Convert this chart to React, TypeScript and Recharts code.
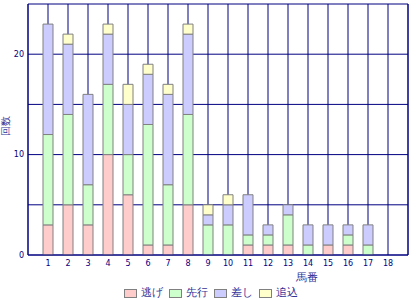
import { BarChart, Bar, XAxis, YAxis, CartesianGrid } from "recharts";

const horses = [1, 2, 3, 4, 5, 6, 7, 8, 9, 10, 11, 12, 13, 14, 15, 16, 17, 18];
const nige = [3, 5, 3, 10, 6, 1, 1, 5, 0, 0, 1, 1, 1, 0, 1, 1, 0, 0];
const senko = [9, 9, 4, 7, 4, 12, 6, 9, 3, 3, 1, 1, 3, 1, 0, 1, 1, 0];
const sashi = [11, 7, 9, 5, 5, 5, 9, 8, 1, 2, 4, 1, 1, 2, 2, 1, 2, 0];
const oikomi = [0, 1, 0, 1, 2, 1, 1, 1, 1, 1, 0, 0, 0, 0, 0, 0, 0, 0];
const yTicks = [0, 5, 10, 15, 20, 25];

const series = [
  { key: "nige", name: "逃げ", color: "#ffcccc" },
  { key: "senko", name: "先行", color: "#ccffcc" },
  { key: "sashi", name: "差し", color: "#ccccff" },
  { key: "oikomi", name: "追込", color: "#ffffcc" },
];

const data = horses.map((h, i) => ({
  horse: String(h),
  nige: nige[i],
  senko: senko[i],
  sashi: sashi[i],
  oikomi: oikomi[i],
}));

const navy = "#000080";
const titleColor = "#333399";

export default function App() {
  return (
    <div
      style={{
        position: "absolute",
        left: 0,
        top: 0,
        width: 420,
        height: 300,
        background: "#fff",
        fontFamily: "'DejaVu Sans', sans-serif",
      }}
    >
      <BarChart
        width={420}
        height={300}
        data={data}
        margin={{ top: 4, right: 11, left: 0, bottom: 0 }}
        barSize={10}
      >
        <CartesianGrid stroke={navy} strokeWidth={1} />
        <XAxis
          dataKey="horse"
          padding={{ left: 10, right: 10 }}
          interval={0}
          height={45}
          tickLine={false}
          tickSize={0}
          tickMargin={5}
          axisLine={{ stroke: navy }}
          tick={{ fill: navy, fontSize: 8 }}
          label={{
            content: () => (
              <text x={307} y={281} textAnchor="middle" fill={titleColor} fontSize={11}>
                馬番
              </text>
            ),
          }}
        />
        <YAxis
          width={28}
          domain={[0, 25]}
          ticks={yTicks}
          interval={0}
          tickLine={false}
          tickSize={0}
          tickMargin={4}
          axisLine={{ stroke: navy }}
          tick={{ fill: navy, fontSize: 8 }}
          tickFormatter={(v: number) => (v % 10 === 0 ? String(v) : "")}
          label={{
            content: () => (
              <text
                x={9}
                y={126}
                textAnchor="middle"
                fill={titleColor}
                fontSize={10}
                transform="rotate(-90 9 126)"
              >
                回数
              </text>
            ),
          }}
        />
        <YAxis
          yAxisId="frame"
          orientation="right"
          width={1}
          domain={[0, 25]}
          tick={false}
          tickLine={false}
          axisLine={{ stroke: navy }}
        />
        {series.map((s) => (
          <Bar
            key={s.key}
            dataKey={s.key}
            name={s.name}
            stackId="a"
            fill={s.color}
            stroke="#808080"
            strokeWidth={1}
            isAnimationActive={false}
          />
        ))}
      </BarChart>
      <div
        style={{
          position: "absolute",
          left: 124,
          top: 286,
          display: "flex",
          alignItems: "center",
          fontSize: 11,
          color: titleColor,
          lineHeight: "14px",
        }}
      >
        {series.map((s) => (
          <div key={s.key} style={{ display: "flex", alignItems: "center", width: 45 }}>
            <span
              style={{
                display: "inline-block",
                width: 11,
                height: 7,
                background: s.color,
                border: "1px solid #808080",
                marginRight: 4,
              }}
            />
            <span>{s.name}</span>
          </div>
        ))}
      </div>
    </div>
  );
}
